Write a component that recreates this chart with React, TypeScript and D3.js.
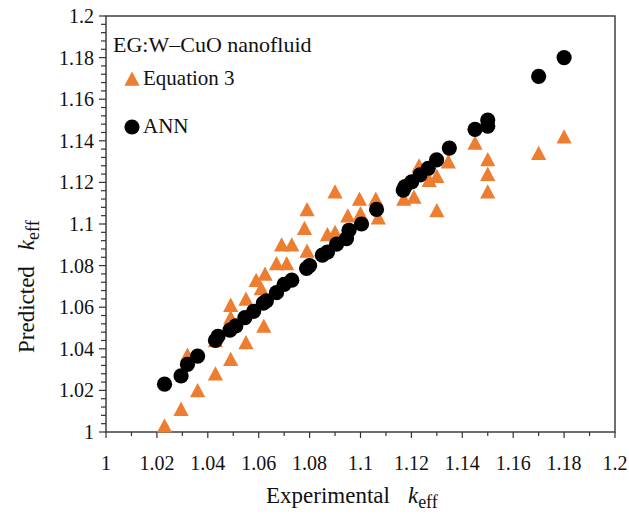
import React from "react";
import * as d3 from "d3";

const xTickLabels = ["1", "1.02", "1.04", "1.06", "1.08", "1.1", "1.12", "1.14", "1.16", "1.18", "1.2"];
const yTickLabels = ["1", "1.02", "1.04", "1.06", "1.08", "1.1", "1.12", "1.14", "1.16", "1.18", "1.2"];

// Equation 3 (triangles): experimental, predicted
const eqX = [1.023, 1.0295, 1.036, 1.043, 1.049, 1.055, 1.062, 1.032, 1.043, 1.049, 1.049, 1.055, 1.059, 1.061, 1.0625, 1.067, 1.071, 1.069, 1.073, 1.078, 1.079, 1.079, 1.087, 1.09, 1.09, 1.0996, 1.095, 1.1, 1.106, 1.107, 1.117, 1.121, 1.123, 1.127, 1.13, 1.1345, 1.13, 1.145, 1.15, 1.15, 1.15, 1.17, 1.18];
const eqY = [1.003, 1.011, 1.02, 1.028, 1.035, 1.043, 1.051, 1.037, 1.044, 1.055, 1.061, 1.064, 1.073, 1.069, 1.076, 1.081, 1.081, 1.09, 1.09, 1.098, 1.087, 1.107, 1.095, 1.096, 1.1155, 1.112, 1.104, 1.105, 1.112, 1.103, 1.112, 1.113, 1.128, 1.121, 1.123, 1.13, 1.1065, 1.139, 1.131, 1.124, 1.1155, 1.134, 1.142];

// ANN (circles): experimental, predicted
const annX = [1.023, 1.0295, 1.032, 1.036, 1.043, 1.044, 1.0487, 1.051, 1.0546, 1.058, 1.0618, 1.063, 1.067, 1.07, 1.073, 1.0788, 1.08, 1.085, 1.087, 1.0906, 1.0945, 1.0955, 1.1004, 1.1063, 1.1168, 1.1175, 1.1201, 1.1234, 1.1266, 1.1299, 1.1349, 1.145, 1.15, 1.15, 1.17, 1.18];
const annY = [1.023, 1.027, 1.0325, 1.0365, 1.044, 1.046, 1.049, 1.051, 1.055, 1.058, 1.062, 1.063, 1.067, 1.071, 1.073, 1.0787, 1.08, 1.085, 1.0865, 1.0903, 1.093, 1.097, 1.1, 1.107, 1.1163, 1.118, 1.1203, 1.1236, 1.1268, 1.1308, 1.1365, 1.1455, 1.15, 1.147, 1.171, 1.18];

const ORANGE = "#ED7D31";
const AXIS = "#333333";
const FONT = "'Liberation Serif', 'Times New Roman', serif";

const W = 629;
const H = 515;
const L = 106, R = 615, T = 16, B = 432;

function tri(cx: number, cy: number) {
  return `M${cx},${cy - 7.5}L${cx + 7.6},${cy + 6.8}L${cx - 7.6},${cy + 6.8}Z`;
}

export default function App() {
  const x = d3.scaleLinear().domain([1, 1.2]).range([L, R]);
  const y = d3.scaleLinear().domain([1, 1.2]).range([B, T]);
  const xMinor = d3.range(0, 21).map((i) => 1 + i * 0.01);
  const yMinor = d3.range(0, 51).map((i) => 1 + i * 0.004);

  return (
    <svg width={W} height={H} style={{ position: "absolute", left: 0, top: 0, background: "#fff" }} fontFamily={FONT}>
      <rect x={0} y={0} width={W} height={H} fill="#fff" />
      {/* ticks */}
      {xMinor.map((v, i) => (
        <line key={"xm" + i} x1={x(v)} x2={x(v)} y1={B} y2={B + (i % 2 === 0 ? 6 : 4)} stroke={AXIS} strokeWidth={1.2} />
      ))}
      {yMinor.map((v, i) => (
        <line key={"ym" + i} x1={L - (i % 5 === 0 ? 7 : 5)} x2={L} y1={y(v)} y2={y(v)} stroke={AXIS} strokeWidth={1.2} />
      ))}
      {/* frame */}
      <rect x={L} y={T} width={R - L} height={B - T} fill="none" stroke={AXIS} strokeWidth={1.4} />
      {/* tick labels */}
      {xTickLabels.map((t) => (
        <text key={"xt" + t} x={x(parseFloat(t))} y={470} textAnchor="middle" fontSize={20} fill="#111">{t}</text>
      ))}
      {yTickLabels.map((t) => (
        <text key={"yt" + t} x={94} y={y(parseFloat(t)) + 7} textAnchor="end" fontSize={20} fill="#111">{t}</text>
      ))}
      {/* data */}
      {eqX.map((v, i) => (
        <path key={"e" + i} d={tri(x(v), y(eqY[i]))} fill={ORANGE} />
      ))}
      {annX.map((v, i) => (
        <circle key={"a" + i} cx={x(v)} cy={y(annY[i])} r={7.6} fill="#000" />
      ))}
      {/* legend */}
      <text x={113} y={52} fontSize={22} fill="#111">EG:W–CuO nanofluid</text>
      <path d={tri(132, 79)} fill={ORANGE} />
      <text x={143} y={85} fontSize={21} fill="#111">Equation 3</text>
      <circle cx={132} cy={127} r={7.6} fill="#000" />
      <text x={143} y={133} fontSize={21} fill="#111">ANN</text>
      {/* axis titles */}
      <text x={266} y={503} fontSize={23} fill="#111">
        Experimental
        <tspan dx={18} fontStyle="italic">k</tspan>
        <tspan dy={5} fontSize={18}>eff</tspan>
      </text>
      <text transform={`translate(34,353) rotate(-90)`} fontSize={23} fill="#111">
        Predicted
        <tspan dx={16} fontStyle="italic">k</tspan>
        <tspan dy={5} fontSize={18}>eff</tspan>
      </text>
    </svg>
  );
}
